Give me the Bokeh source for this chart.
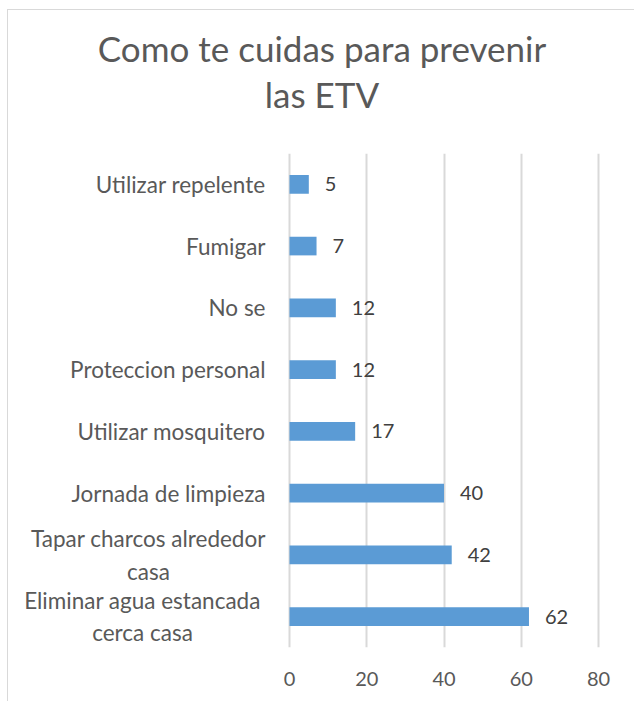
from bokeh.plotting import figure
from bokeh.models import ColumnDataSource, Range1d, FactorRange, FixedTicker, Title
from bokeh.core.properties import value
from bokeh.embed import file_html
from bokeh.resources import INLINE

# ---- data ----
title_lines = ["Como te cuidas para prevenir", "las ETV"]
categories = [
    "Eliminar agua estancada\ncerca casa",
    "Tapar charcos alrededor\ncasa",
    "Jornada de limpieza",
    "Utilizar mosquitero",
    "Proteccion personal",
    "No se",
    "Fumigar",
    "Utilizar repelente",
]
counts = [62, 42, 40, 17, 12, 12, 7, 5]
x_ticks = [0, 20, 40, 60, 80]

# ---- layout / style ----
FONT = "Lato"
TEXT_COLOR = "#595959"
VALUE_COLOR = "#404040"
BAR_COLOR = "#5B9BD5"
GRID_COLOR = "#d9d9d9"
W, H = 627, 692
LEFT_PX, PLOT_PX = 281, 309          # zero line position and plot width (px)
TOP_PX, PLOT_H = 143, 494
px_per_unit = PLOT_PX / (x_ticks[-1] - x_ticks[0])
x_start = x_ticks[0] - LEFT_PX / px_per_unit
x_end = x_ticks[0] + (W - LEFT_PX) / px_per_unit
LABEL_GAP = 24                        # gap between category labels and zero line
MULTI_CENTER = {0: 147, 1: 141}       # centre offsets of the two-line labels

src = ColumnDataSource(dict(cat=categories, count=counts,
                            label=[str(c) for c in counts]))

p = figure(width=W, height=H,
           x_range=Range1d(x_start, x_end),
           y_range=FactorRange(factors=categories),
           y_axis_location=None,
           output_backend="svg", toolbar_location=None,
           min_border_left=0, min_border_right=0,
           min_border_top=TOP_PX, min_border_bottom=H - TOP_PX - PLOT_H)
p.title.visible = False
p.outline_line_color = None
p.styles = {"margin-left": "7px", "margin-top": "9px",
            "border-top": "1px solid #d9d9d9", "border-left": "1px solid #d9d9d9"}

p.hbar(y="cat", left=x_ticks[0], right="count", height=0.3, source=src,
       fill_color=BAR_COLOR, line_color=None)

# value labels
p.text(x="count", y="cat", text="label", source=src,
       x_offset=16, text_align="left", text_baseline="middle",
       text_font=value(FONT), text_font_size="20px", text_color=VALUE_COLOR)

# category labels (right-aligned; two-line labels centred line by line)
cat_src = ColumnDataSource(dict(
    x=[x_ticks[0]] * len(categories),
    cat=categories,
    xo=[-MULTI_CENTER[i] if "\n" in c else -LABEL_GAP for i, c in enumerate(categories)],
    align=["center" if "\n" in c else "right" for c in categories],
))
p.text(x="x", y="cat", text="cat", source=cat_src, x_offset="xo",
       text_align="align", text_baseline="middle",
       text_font=value(FONT), text_font_size="22.5px", text_color=TEXT_COLOR)

# x axis and grid
p.xaxis.ticker = FixedTicker(ticks=x_ticks)
p.xgrid.ticker = FixedTicker(ticks=x_ticks)
p.ygrid.visible = False
p.xgrid.grid_line_color = GRID_COLOR
p.xgrid.grid_line_width = 2
ax = p.xaxis[0]
ax.axis_line_color = None
ax.major_tick_line_color = None
ax.minor_tick_line_color = None
ax.major_tick_in = 0
ax.major_tick_out = 0
ax.major_label_text_font = FONT
ax.major_label_text_color = TEXT_COLOR
ax.major_label_text_font_size = "20px"
ax.major_label_standoff = 24

# spacer between plot and title, then the two title lines (nearest first)
p.add_layout(Title(text=" ", text_font_size="1px", standoff=35), "above")
for line in reversed(title_lines):
    p.add_layout(Title(text=line, align="center", text_font=FONT,
                       text_font_size="35px", text_font_style="normal",
                       text_color=TEXT_COLOR, standoff=2), "above")

open("out.html", "w").write(file_html(p, INLINE))
